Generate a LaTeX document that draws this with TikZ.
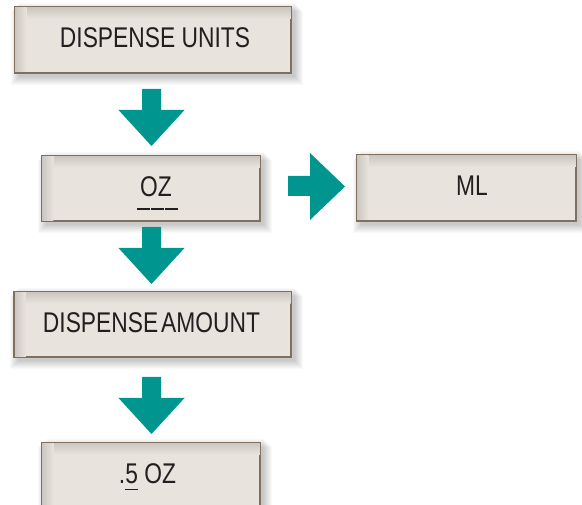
\documentclass[tikz,border=0pt]{standalone}
\usepackage{fontspec}
\setmainfont{Liberation Sans}[FakeStretch=0.8]
\definecolor{boxfill}{HTML}{E9E3DD}
\definecolor{boxshade}{HTML}{CBC6C1}
\definecolor{boxline}{HTML}{7F6F5E}
\definecolor{teal}{HTML}{00968F}
\definecolor{txt}{HTML}{231F20}
\tikzset{
  panel/.style={rectangle, draw=boxline, line width=1.2pt, fill=boxfill, inner sep=0pt},
  wide/.style={minimum width=276pt, minimum height=65pt},
  narrow/.style={minimum width=218pt, minimum height=65pt},
  label/.style={inner sep=0pt, text=txt, font=\fontsize{28.5}{30}\selectfont,
    text height=20.5pt, text depth=5pt},
  blockarrow/.style={fill=teal, draw=none}
}
\newcommand\softshadow[1]{%
  \foreach \i in {1,...,9}{%
    \fill[black, opacity=0.022]
      ([shift={(4pt-\i*1pt+1pt,4pt-\i*1pt+1pt)}]#1.north west) rectangle ([shift={(3pt+\i*1pt,-3pt-\i*1pt)}]#1.south east);
  }%
}
\newcommand\innershade[1]{%
  \shade[left color=boxshade, right color=boxfill]
    ([shift={(0.6pt,-0.6pt)}]#1.north west) rectangle ([shift={(12pt,0.6pt)}]#1.south west);
  \shade[top color=boxshade, bottom color=boxfill]
    ([shift={(0.6pt,-0.6pt)}]#1.north west) rectangle ([shift={(-0.6pt,-12pt)}]#1.north east);
  \shade[left color=boxshade, right color=boxfill]
    ([shift={(0.6pt,-0.6pt)}]#1.north west) rectangle ([shift={(12pt,-12pt)}]#1.north west);
}
\newcommand\tealdown[2]{% x center, y top (in picture units)
  \fill[blockarrow] (#1-9.5,#2) -- (#1+9.5,#2) -- (#1+9.5,#2+21) -- (#1+33,#2+21)
    -- (#1,#2+57) -- (#1-33,#2+21) -- (#1-9.5,#2+21) -- cycle;
}
\begin{document}
\begin{tikzpicture}[x=1pt,y=-1pt]
\useasboundingbox (0,0) rectangle (582,505);
\fill[white] (0,0) rectangle (582,505);

\path coordinate (c1) at (153,40) coordinate (c2) at (151,188.5)
  coordinate (c3) at (466.5,188) coordinate (c4) at (152.5,324.5)
  coordinate (c5) at (151,475.5);
\node[wide, inner sep=0pt]   (s1) at (c1) {};
\node[narrow, inner sep=0pt] (s2) at (c2) {};
\node[narrow, minimum width=219pt, inner sep=0pt] (s3) at (c3) {};
\node[wide, inner sep=0pt]   (s4) at (c4) {};
\node[narrow, inner sep=0pt] (s5) at (c5) {};
\foreach \b in {s1,s2,s3,s4,s5}{\softshadow{\b}}

\node[panel, wide]   (units)  at (c1) {};
\node[panel, narrow] (oz)     at (c2) {};
\node[panel, narrow, minimum width=219pt] (ml) at (c3) {};
\node[panel, wide]   (amount) at (c4) {};
\node[panel, narrow] (half)   at (c5) {};

\foreach \b in {units,oz,ml,amount,half}{\innershade{\b}}
\foreach \b in {units,oz,ml,amount,half}{\draw[boxline, line width=1.2pt] (\b.north west) rectangle (\b.south east);}

\node[label] (unitsT) at ([xshift=2pt]units.center) {DISPENSE UNITS};
\node[label] (ozT) at ([xshift=5pt]oz.center) {OZ};
\node[label] (mlT) at ([xshift=5.5pt]ml.center) {ML};
\node[label] (amountT) at ([xshift=-1pt]amount.center) {DISPENSE\kern3pt AMOUNT};
\node[label] (halfT) at ([xshift=-3.5pt]half.center) {.\smash{\rlap{\rule[-6.5pt]{12.2pt}{1.2pt}}}5 OZ};

% underline segments under OZ
\coordinate (u1) at (137,209);
\draw[txt, line width=1.2pt] (u1) -- ++(12.5,0) ++(1.5,0) -- ++(12.5,0) ++(1.5,0) -- ++(13,0);

% block arrows
\tealdown{151.5}{89}
\tealdown{151.5}{227}
\tealdown{151.5}{377}
\fill[blockarrow] (288,176) -- (310,176) -- (310,153) -- (345,186.5) -- (310,220)
  -- (310,196) -- (288,196) -- cycle;
\end{tikzpicture}
\end{document}
